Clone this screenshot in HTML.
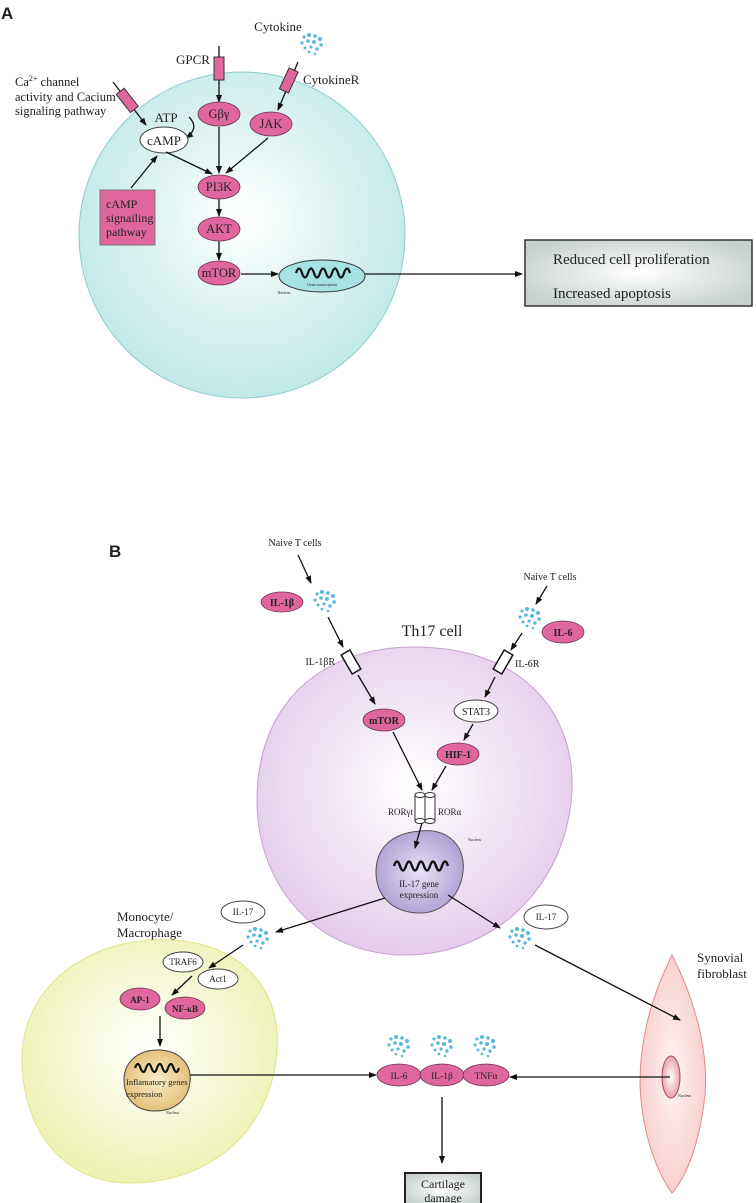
<!DOCTYPE html>
<html><head><meta charset="utf-8"><style>
html,body{margin:0;padding:0;background:#fff}
svg{display:block}
text{font-family:"Liberation Serif",serif;fill:#222}
.b{font-weight:bold}
</style></head><body>
<svg width="756" height="1203" viewBox="0 0 756 1203" xmlns="http://www.w3.org/2000/svg">
<defs>
<marker id="ar" markerWidth="8" markerHeight="8" refX="7" refY="4" orient="auto" markerUnits="userSpaceOnUse"><path d="M0,1 L8,4 L0,7 z" fill="#111"/></marker>
<radialGradient id="gA" cx="0.5" cy="0.45" r="0.55"><stop offset="0" stop-color="#ffffff"/><stop offset="1" stop-color="#bfe9e6"/></radialGradient>
<radialGradient id="gT" cx="0.5" cy="0.45" r="0.55"><stop offset="0" stop-color="#ffffff"/><stop offset="1" stop-color="#e4cdea"/></radialGradient>
<radialGradient id="gM" cx="0.5" cy="0.45" r="0.55"><stop offset="0" stop-color="#ffffff"/><stop offset="1" stop-color="#eef2b4"/></radialGradient>
<radialGradient id="gF" cx="0.5" cy="0.5" r="0.5"><stop offset="0" stop-color="#fff4f4"/><stop offset="1" stop-color="#f9cfcf"/></radialGradient>
<radialGradient id="gFN" cx="0.5" cy="0.5" r="0.55"><stop offset="0" stop-color="#ffffff"/><stop offset="1" stop-color="#e89aa2"/></radialGradient>
<radialGradient id="gN" cx="0.5" cy="0.5" r="0.6"><stop offset="0" stop-color="#e8e2f6"/><stop offset="1" stop-color="#a797cf"/></radialGradient>
<radialGradient id="gY" cx="0.5" cy="0.5" r="0.6"><stop offset="0" stop-color="#fbecc8"/><stop offset="1" stop-color="#e0b86e"/></radialGradient>
<radialGradient id="gB" cx="0.5" cy="0.5" r="0.6"><stop offset="0" stop-color="#ffffff"/><stop offset="1" stop-color="#c6d0ce"/></radialGradient>
<g id="dots" fill="#5ab8de">
<circle cx="-8" cy="-6" r="1.6"/><circle cx="-3" cy="-8" r="2"/><circle cx="3" cy="-7" r="1.8"/><circle cx="8" cy="-4" r="2"/><circle cx="-10" cy="0" r="1.6"/><circle cx="-4" cy="-2" r="1.8"/><circle cx="2" cy="-1" r="2"/><circle cx="9" cy="2" r="1.8"/><circle cx="-7" cy="5" r="1.5"/><circle cx="-1" cy="4" r="1.6"/><circle cx="5" cy="6" r="1.7"/><circle cx="-3" cy="9" r="1.4"/><circle cx="3" cy="11" r="1.3"/>
</g>
</defs>

<!-- Panel A -->
<text x="1" y="19" class="b" style="font-family:'Liberation Sans',sans-serif;font-size:17px">A</text>
<circle cx="242" cy="235" r="163" fill="url(#gA)" stroke="#8fcad0" stroke-width="1"/>
<text x="278" y="31" font-size="13" text-anchor="middle">Cytokine</text>
<use href="#dots" x="312" y="43"/>
<text x="193" y="64" font-size="13" text-anchor="middle">GPCR</text>
<line x1="219" y1="46" x2="219" y2="102" stroke="#111" stroke-width="1.3" marker-end="url(#ar)"/>
<rect x="214" y="57" width="10" height="23" fill="#e0679d" stroke="#333"/>
<text x="303" y="84" font-size="13">CytokineR</text>
<line x1="298" y1="62" x2="278" y2="110" stroke="#111" stroke-width="1.3" marker-end="url(#ar)"/>
<rect x="284" y="69" width="10" height="23" fill="#e0679d" stroke="#333" transform="rotate(25 289 80)"/>
<text x="15" y="86" font-size="12.5">Ca<tspan font-size="8" dy="-5">2+</tspan><tspan dy="5"> channel</tspan></text>
<text x="15" y="101" font-size="12.5">activity and Cacium</text>
<text x="15" y="115" font-size="12.5">signaling pathway</text>
<line x1="113" y1="82" x2="146" y2="125" stroke="#111" stroke-width="1.3" marker-end="url(#ar)"/>
<rect x="122" y="89" width="10" height="23" fill="#e0679d" stroke="#333" transform="rotate(-38 127 100)"/>
<text x="166" y="122" font-size="13" text-anchor="middle">ATP</text>
<path d="M189,117 Q200,128 186,138" fill="none" stroke="#111" stroke-width="1.3" marker-end="url(#ar)"/>
<ellipse cx="164" cy="140" rx="24" ry="13" fill="#fff" stroke="#444"/>
<text x="164" y="145" font-size="13" text-anchor="middle">cAMP</text>
<rect x="100" y="190" width="55" height="55" fill="#e0679d" stroke="#777"/>
<text x="106" y="208" font-size="12">cAMP</text>
<text x="106" y="222" font-size="12">signailing</text>
<text x="106" y="236" font-size="12">pathway</text>
<line x1="131" y1="188" x2="157" y2="156" stroke="#111" stroke-width="1.3" marker-end="url(#ar)"/>
<line x1="166" y1="152" x2="212" y2="174" stroke="#111" stroke-width="1.3" marker-end="url(#ar)"/>
<line x1="219" y1="127" x2="219" y2="173" stroke="#111" stroke-width="1.3" marker-end="url(#ar)"/>
<line x1="268" y1="138" x2="226" y2="173" stroke="#111" stroke-width="1.3" marker-end="url(#ar)"/>
<line x1="219" y1="199" x2="219" y2="216" stroke="#111" stroke-width="1.3" marker-end="url(#ar)"/>
<line x1="219" y1="241" x2="219" y2="260" stroke="#111" stroke-width="1.3" marker-end="url(#ar)"/>
<g fill="#e0679d" stroke="#6a3350" stroke-width="0.8">
<ellipse cx="219" cy="114" rx="21" ry="12"/><ellipse cx="271" cy="124" rx="21" ry="12"/>
<ellipse cx="219" cy="187" rx="21" ry="12"/><ellipse cx="219" cy="229" rx="21" ry="12"/><ellipse cx="219" cy="273" rx="21" ry="12"/>
</g>
<g font-size="12.5" text-anchor="middle">
<text x="219" y="118">Gβγ</text><text x="271" y="128">JAK</text><text x="219" y="191">PI3K</text><text x="219" y="233">AKT</text><text x="219" y="277">mTOR</text>
</g>
<line x1="241" y1="274" x2="278" y2="274" stroke="#111" stroke-width="1.3" marker-end="url(#ar)"/>
<ellipse cx="322" cy="276" rx="43" ry="16" fill="#a6e2e2" stroke="#333"/>
<path d="M296,273 q3,-9 6,0 q3,9 6,0 q3,-9 6,0 q3,9 6,0 q3,-9 6,0 q3,9 6,0 q3,-9 6,0 q3,9 6,0 q3,-9 6,0" fill="none" stroke="#111" stroke-width="2.2"/>
<text x="322" y="286" font-size="4" text-anchor="middle">Gene transcription</text>
<text x="284" y="294" font-size="4" text-anchor="middle">Nucleus</text>
<line x1="365" y1="274" x2="522" y2="274" stroke="#111" stroke-width="1.3" marker-end="url(#ar)"/>
<rect x="525" y="240" width="227" height="66" fill="url(#gB)" stroke="#333" stroke-width="1.5"/>
<text x="553" y="264" font-size="15">Reduced cell proliferation</text>
<text x="553" y="298" font-size="15">Increased apoptosis</text>

<!-- Panel B -->
<text x="109" y="557" class="b" style="font-family:'Liberation Sans',sans-serif;font-size:17px">B</text>
<path d="M414,647 C520,647 575,710 572,790 C568,880 500,955 405,955 C320,955 257,890 257,800 C257,705 320,647 414,647 Z" fill="url(#gT)" stroke="#c9a0d0"/>
<text x="432" y="636" font-size="16" text-anchor="middle">Th17 cell</text>
<text x="295" y="546" font-size="10" text-anchor="middle">Naive T cells</text>
<line x1="298" y1="555" x2="311" y2="583" stroke="#111" stroke-width="1.3" marker-end="url(#ar)"/>
<use href="#dots" x="325" y="600"/>
<line x1="328" y1="617" x2="343" y2="647" stroke="#111" stroke-width="1.3" marker-end="url(#ar)"/>
<rect x="346" y="651" width="10" height="22" fill="#fff" stroke="#111" stroke-width="1.5" transform="rotate(-30 351 662)"/>
<text x="335" y="665" font-size="10" text-anchor="end">IL-1βR</text>
<line x1="358" y1="675" x2="375" y2="704" stroke="#111" stroke-width="1.3" marker-end="url(#ar)"/>
<text x="550" y="580" font-size="10" text-anchor="middle">Naive T cells</text>
<line x1="547" y1="586" x2="536" y2="604" stroke="#111" stroke-width="1.3" marker-end="url(#ar)"/>
<use href="#dots" x="530" y="617"/>
<line x1="522" y1="633" x2="511" y2="650" stroke="#111" stroke-width="1.3" marker-end="url(#ar)"/>
<rect x="498" y="651" width="10" height="22" fill="#fff" stroke="#111" stroke-width="1.5" transform="rotate(30 503 662)"/>
<text x="515" y="667" font-size="10">IL-6R</text>
<line x1="495" y1="677" x2="485" y2="697" stroke="#111" stroke-width="1.3" marker-end="url(#ar)"/>
<ellipse cx="476" cy="711" rx="22" ry="11" fill="#fff" stroke="#444"/>
<text x="476" y="715" font-size="10" text-anchor="middle" fill="#555">STAT3</text>
<line x1="473" y1="724" x2="464" y2="740" stroke="#111" stroke-width="1.3" marker-end="url(#ar)"/>
<line x1="393" y1="732" x2="422" y2="790" stroke="#111" stroke-width="1.3" marker-end="url(#ar)"/>
<line x1="446" y1="766" x2="432" y2="790" stroke="#111" stroke-width="1.3" marker-end="url(#ar)"/>
<g fill="#e0679d" stroke="#6a3350" stroke-width="0.8">
<ellipse cx="282" cy="602" rx="21" ry="10"/><ellipse cx="563" cy="632" rx="21" ry="11"/>
<ellipse cx="384" cy="720" rx="21" ry="11"/><ellipse cx="458" cy="754" rx="21" ry="11"/>
</g>
<g font-size="10" text-anchor="middle" class="b">
<text x="282" y="606">IL-1β</text><text x="563" y="636">IL-6</text><text x="384" y="724">mTOR</text><text x="458" y="758">HIF-1</text>
</g>
<g fill="#fff" stroke="#333">
<rect x="415" y="795" width="10" height="26"/><rect x="425" y="795" width="10" height="26"/>
<ellipse cx="420" cy="795" rx="5" ry="2.5"/><ellipse cx="430" cy="795" rx="5" ry="2.5"/>
<ellipse cx="420" cy="821" rx="5" ry="2.5"/><ellipse cx="430" cy="821" rx="5" ry="2.5"/>
</g>
<text x="413" y="815" font-size="9" text-anchor="end">RORγt</text>
<text x="438" y="815" font-size="9">RORα</text>
<path d="M420,831 C450,828 466,848 463,872 C460,898 440,913 420,913 C395,913 376,898 376,872 C376,848 392,833 420,831 Z" fill="url(#gN)" stroke="#555"/>
<line x1="422" y1="823" x2="415" y2="848" stroke="#111" stroke-width="1.3" marker-end="url(#ar)"/>
<path d="M394,866 q3,-9 6,0 q3,9 6,0 q3,-9 6,0 q3,9 6,0 q3,-9 6,0 q3,9 6,0 q3,-9 6,0 q3,9 6,0 q3,-9 6,0" fill="none" stroke="#111" stroke-width="2.4"/>
<text x="419" y="887" font-size="9" text-anchor="middle">IL-17 gene</text>
<text x="419" y="898" font-size="9" text-anchor="middle">expression</text>
<text x="468" y="841" font-size="4">Nucleus</text>

<!-- Monocyte -->
<path d="M150,940 C230,935 282,980 277,1050 C272,1130 210,1185 125,1183 C55,1180 22,1120 22,1060 C22,990 80,945 150,940 Z" fill="url(#gM)" stroke="#dfe48a"/>
<text x="117" y="921" font-size="13">Monocyte/</text>
<text x="117" y="937" font-size="13">Macrophage</text>
<ellipse cx="243" cy="912" rx="22" ry="11" fill="#fff" stroke="#444"/>
<text x="243" y="915" font-size="9" text-anchor="middle" fill="#666">IL-17</text>
<line x1="385" y1="898" x2="276" y2="932" stroke="#111" stroke-width="1.3" marker-end="url(#ar)"/>
<use href="#dots" x="258" y="937"/>
<line x1="243" y1="945" x2="209" y2="968" stroke="#111" stroke-width="1.3" marker-end="url(#ar)"/>
<ellipse cx="218" cy="979" rx="20" ry="10" fill="#fff" stroke="#444"/>
<ellipse cx="183" cy="962" rx="20" ry="10" fill="#fff" stroke="#444"/>
<text x="183" y="965" font-size="9" text-anchor="middle">TRAF6</text>
<text x="218" y="982" font-size="9" text-anchor="middle">Act1</text>
<line x1="192" y1="976" x2="172" y2="995" stroke="#111" stroke-width="1.3" marker-end="url(#ar)"/>
<g fill="#e0679d" stroke="#6a3350" stroke-width="0.8">
<ellipse cx="140" cy="999" rx="20" ry="11"/><ellipse cx="185" cy="1008" rx="20" ry="11"/>
</g>
<text x="140" y="1003" font-size="9" text-anchor="middle" class="b">AP-1</text>
<text x="185" y="1012" font-size="9" text-anchor="middle" class="b">NF-κB</text>
<line x1="160" y1="1016" x2="160" y2="1046" stroke="#111" stroke-width="1.3" marker-end="url(#ar)"/>
<path d="M158,1050 C180,1050 192,1065 190,1082 C188,1100 175,1111 155,1111 C135,1111 124,1098 124,1080 C124,1062 138,1050 158,1050 Z" fill="url(#gY)" stroke="#444"/>
<path d="M135,1068 q3,-8 5.5,0 q3,8 5.5,0 q3,-8 5.5,0 q3,8 5.5,0 q3,-8 5.5,0 q3,8 5.5,0 q3,-8 5.5,0 q3,8 5.5,0" fill="none" stroke="#111" stroke-width="2.2"/>
<text x="126" y="1085" font-size="8.5">Inflamatory genes</text>
<text x="126" y="1097" font-size="8.5">expression</text>
<text x="166" y="1114" font-size="4">Nucleus</text>
<line x1="190" y1="1075" x2="376" y2="1075" stroke="#111" stroke-width="1.3" marker-end="url(#ar)"/>

<!-- Synovial -->
<ellipse cx="546" cy="917" rx="22" ry="12" fill="#fff" stroke="#444"/>
<text x="546" y="920" font-size="9" text-anchor="middle" fill="#666">IL-17</text>
<line x1="448" y1="895" x2="500" y2="928" stroke="#111" stroke-width="1.3" marker-end="url(#ar)"/>
<use href="#dots" x="520" y="937"/>
<path d="M672,955 C700,1010 708,1060 705,1095 C700,1140 688,1175 672,1193 C655,1170 642,1130 640,1085 C640,1040 650,1000 672,955 Z" fill="url(#gF)" stroke="#e08a8a"/>
<text x="697" y="962" font-size="13">Synovial</text>
<text x="697" y="978" font-size="13">fibroblast</text>
<line x1="535" y1="945" x2="680" y2="1020" stroke="#111" stroke-width="1.3" marker-end="url(#ar)"/>
<ellipse cx="671" cy="1077" rx="9" ry="21" fill="url(#gFN)" stroke="#a05060"/>
<text x="678" y="1097" font-size="4">Nucleus</text>
<line x1="670" y1="1077" x2="510" y2="1077" stroke="#111" stroke-width="1.3" marker-end="url(#ar)"/>

<use href="#dots" x="399" y="1045"/><use href="#dots" x="442" y="1045"/><use href="#dots" x="485" y="1045"/>
<g fill="#e0679d" stroke="#6a3350" stroke-width="0.8">
<ellipse cx="399" cy="1075" rx="22" ry="11"/><ellipse cx="442" cy="1075" rx="22" ry="11"/><ellipse cx="486" cy="1075" rx="23" ry="11"/>
</g>
<g font-size="9.5" text-anchor="middle">
<text x="399" y="1079">IL-6</text><text x="442" y="1079">IL-1β</text><text x="486" y="1079">TNFα</text>
</g>
<line x1="442" y1="1097" x2="442" y2="1163" stroke="#111" stroke-width="1.3" marker-end="url(#ar)"/>
<rect x="405" y="1173" width="76" height="32" fill="url(#gB)" stroke="#222" stroke-width="2"/>
<text x="443" y="1188" font-size="12" text-anchor="middle">Cartilage</text>
<text x="443" y="1202" font-size="12" text-anchor="middle">damage</text>
</svg>
</body></html>
